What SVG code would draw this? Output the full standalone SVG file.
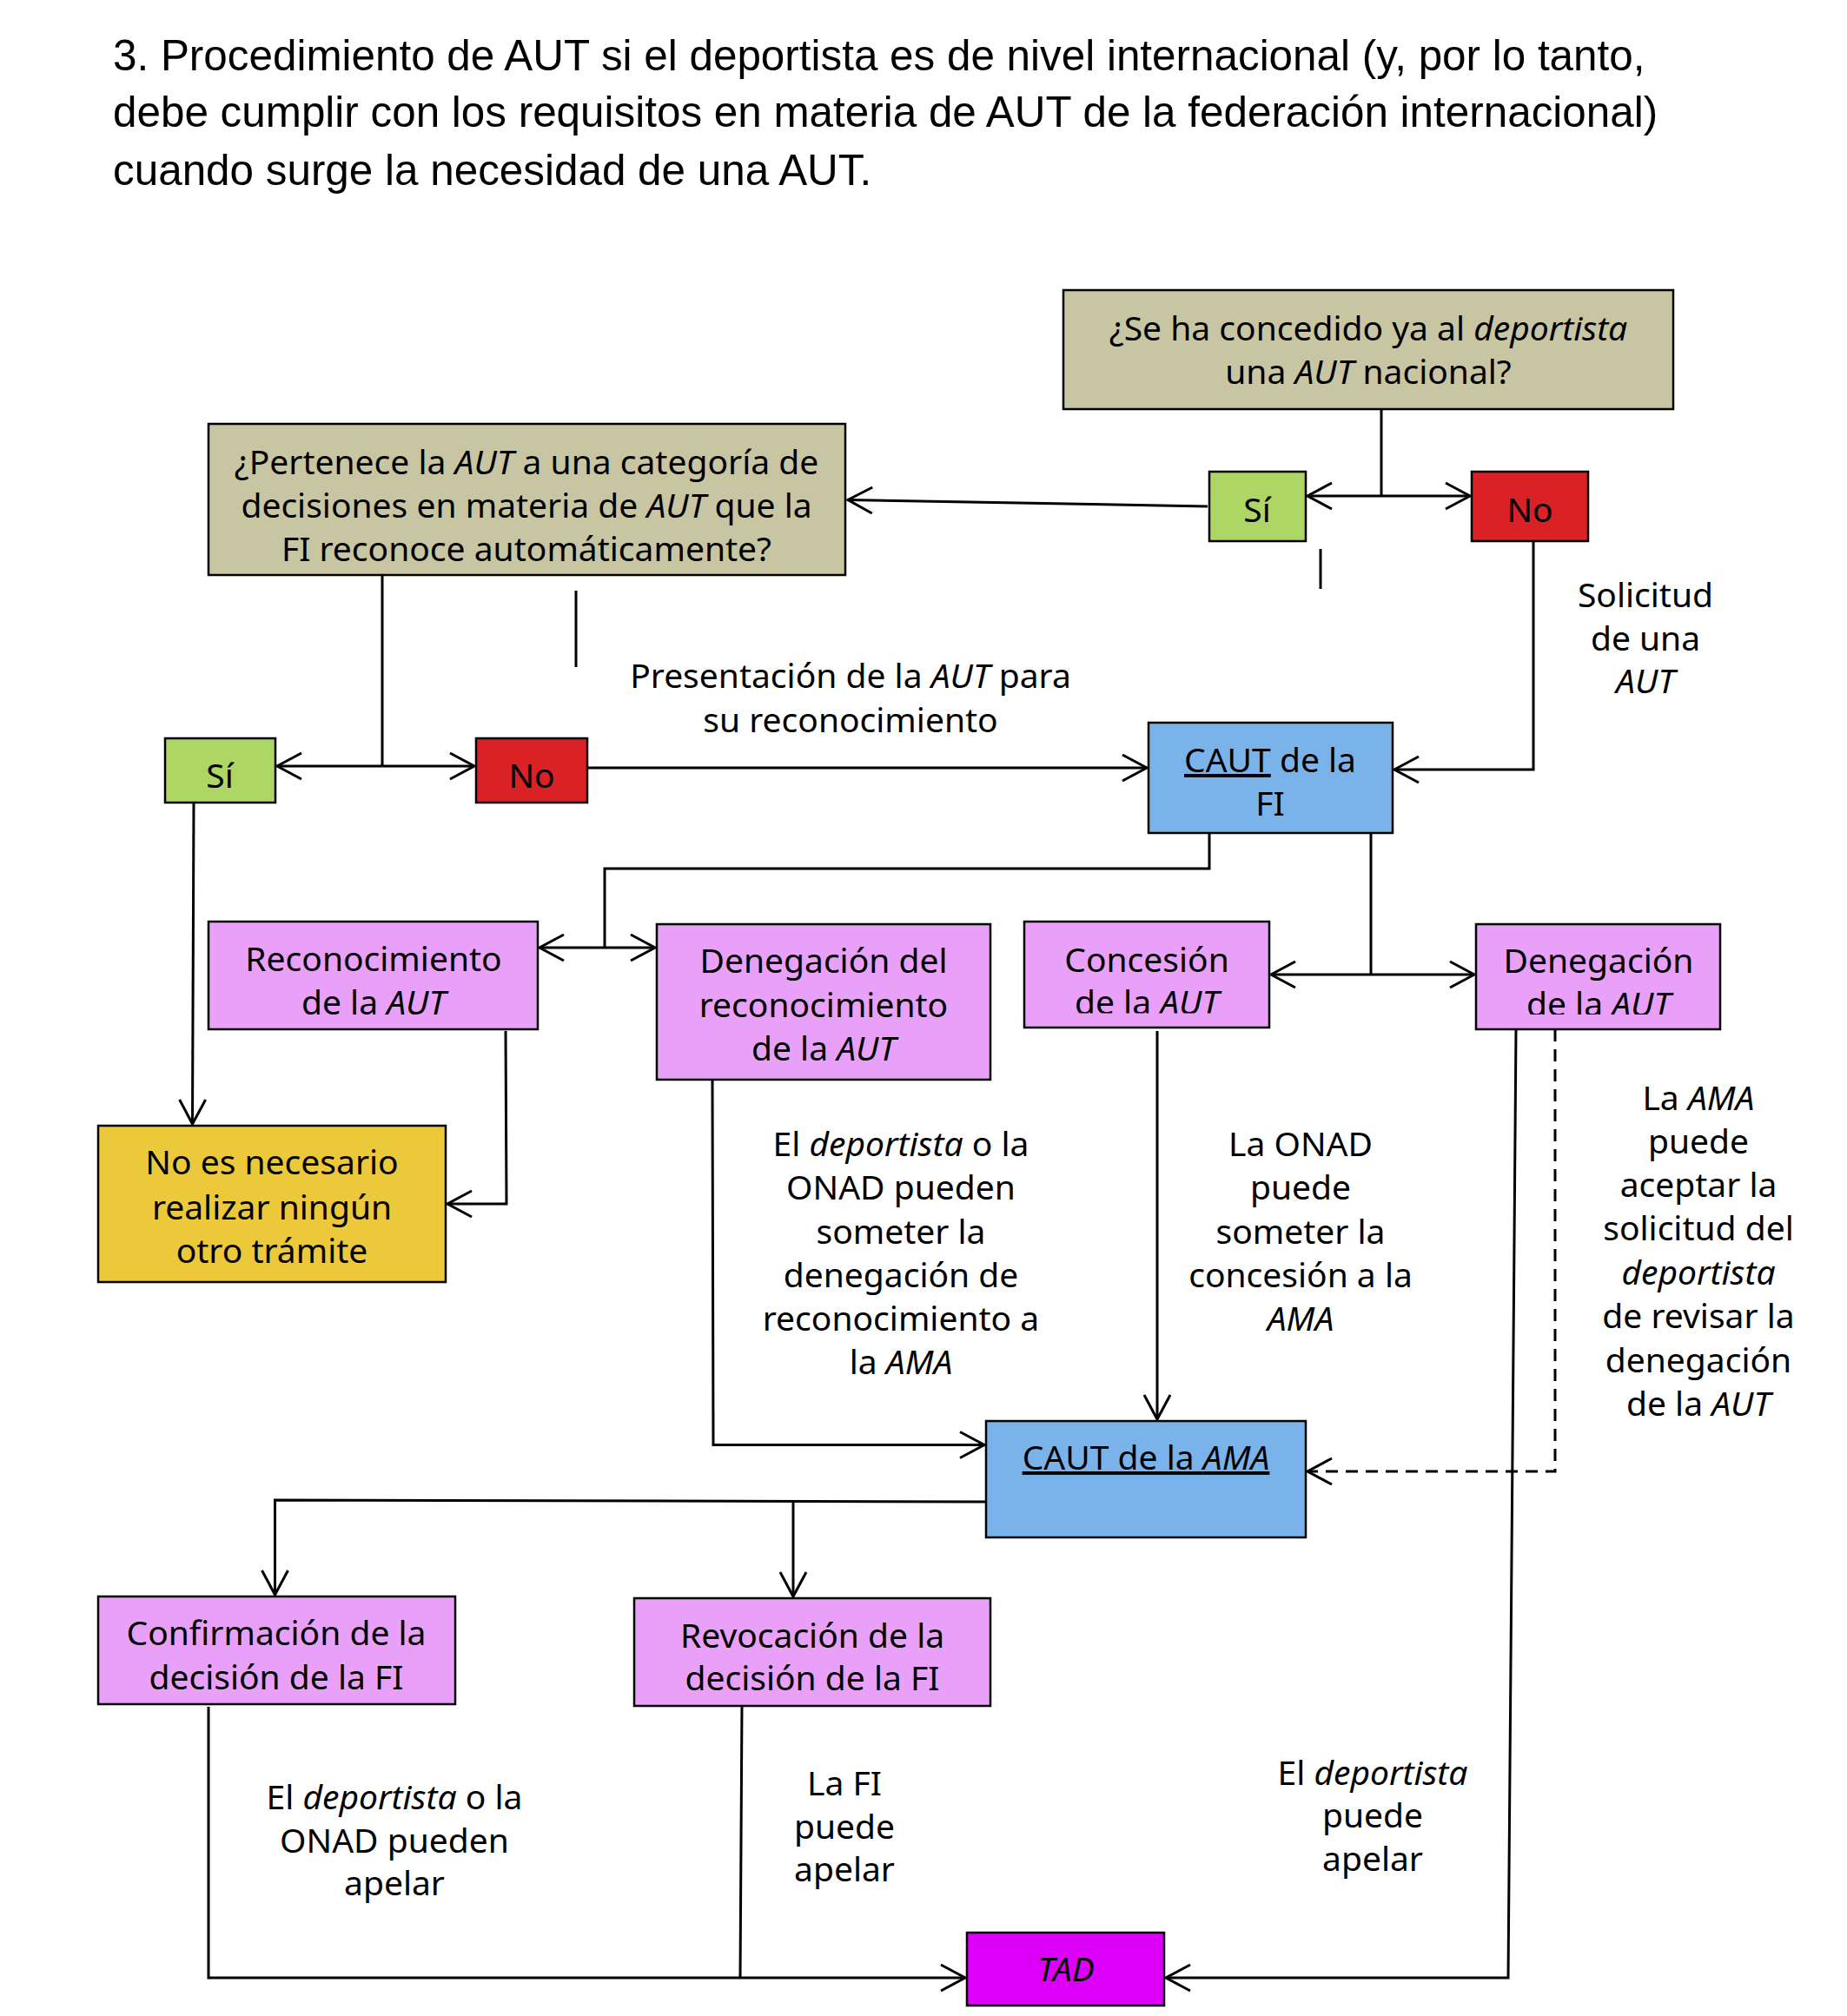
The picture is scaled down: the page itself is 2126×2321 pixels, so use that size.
<svg xmlns="http://www.w3.org/2000/svg" width="2126" height="2321" viewBox="0 0 2126 2321">
<style>
.bx{stroke:#000;stroke-width:2.5}
.q{fill:#C8C5A3}
.g{fill:#AED665}
.r{fill:#D92126}
.b{fill:#7AB2EA}
.p{fill:#E8A0F8}
.y{fill:#EBC93B}
.m{fill:#DD00F8}
.t{font-family:"Noto Sans","DejaVu Sans",sans-serif;font-size:39px;fill:#000;text-anchor:middle}
.i{font-style:italic}
.u{text-decoration:underline}
.ttl{font-family:"Liberation Sans",Arial,sans-serif;font-size:49.4px;fill:#000}
.c{fill:none;stroke:#000;stroke-width:3}
.d{stroke-dasharray:14 9}
</style>
<defs>
<marker id="a" markerUnits="userSpaceOnUse" markerWidth="40" markerHeight="40" viewBox="-32 -20 40 40" refX="0" refY="0" orient="auto-start-reverse" overflow="visible">
<path d="M-28,-15 L0,0 L-28,15" fill="none" stroke="#000" stroke-width="3"/>
</marker>
<clipPath id="clipC"><rect x="1179" y="1061" width="282" height="105.5"/></clipPath>
<clipPath id="clipD"><rect x="1699" y="1064" width="281" height="104"/></clipPath>
</defs>
<rect width="2126" height="2321" fill="#fff"/>
<g id="title">
<text class="ttl" x="130" y="81">3. Procedimiento de AUT si el deportista es de nivel internacional (y, por lo tanto,</text>
<text class="ttl" x="130" y="146">debe cumplir con los requisitos en materia de AUT de la federación internacional)</text>
<text class="ttl" x="130" y="213">cuando surge la necesidad de una AUT.</text>
</g>
<g id="connectors">
<path class="c" d="M1590,471 V571"/>
<path class="c" d="M1505,571 H1692" marker-start="url(#a)" marker-end="url(#a)"/>
<path class="c" d="M1390,583 L976,575.5" marker-end="url(#a)"/>
<path class="c" d="M440,662 V882"/>
<path class="c" d="M319,882 H546" marker-start="url(#a)" marker-end="url(#a)"/>
<path class="c" d="M676,884 H1320" marker-end="url(#a)"/>
<path class="c" d="M1765,623 V886 H1605" marker-end="url(#a)"/>
<path class="c" d="M1392,959 V1000 H696 V1091"/>
<path class="c" d="M621,1091 H754" marker-start="url(#a)" marker-end="url(#a)"/>
<path class="c" d="M1578,959 V1122"/>
<path class="c" d="M1463,1122 H1697" marker-start="url(#a)" marker-end="url(#a)"/>
<path class="c" d="M223,924 L221.5,1294" marker-end="url(#a)"/>
<path class="c" d="M582,1187 L583,1386 H515" marker-end="url(#a)"/>
<path class="c" d="M820,1243 L821,1663.5 H1133" marker-end="url(#a)"/>
<path class="c" d="M1332,1187 V1634" marker-end="url(#a)"/>
<path class="c d" d="M1790,1185 V1694 H1505" marker-end="url(#a)"/>
<path class="c" d="M1745,1185 L1736,2277 H1342" marker-end="url(#a)"/>
<path class="c" d="M1135,1729 L316.5,1727 V1836" marker-end="url(#a)"/>
<path class="c" d="M913,1728 V1838" marker-end="url(#a)"/>
<path class="c" d="M240,1965 V2277 H1111" marker-end="url(#a)"/>
<path class="c" d="M854,1964 L852,2277"/>
<path class="c" d="M663,680 V768"/>
<path class="c" d="M1520,632 V678"/>
</g>
<g id="labels">
<text class="t" x="1894" y="699">Solicitud</text>
<text class="t" x="1894" y="749">de una</text>
<text class="t i" x="1894" y="798">AUT</text>
<text class="t" x="979" y="792">Presentación de la <tspan class="i">AUT</tspan> para</text>
<text class="t" x="979" y="843">su reconocimiento</text>
<text class="t" x="1037" y="1331">El <tspan class="i">deportista</tspan> o la</text>
<text class="t" x="1037" y="1381">ONAD pueden</text>
<text class="t" x="1037" y="1432">someter la</text>
<text class="t" x="1037" y="1482">denegación de</text>
<text class="t" x="1037" y="1532">reconocimiento a</text>
<text class="t" x="1037" y="1582">la <tspan class="i">AMA</tspan></text>
<text class="t" x="1497" y="1331">La ONAD</text>
<text class="t" x="1497" y="1381">puede</text>
<text class="t" x="1497" y="1432">someter la</text>
<text class="t" x="1497" y="1482">concesión a la</text>
<text class="t i" x="1497" y="1532">AMA</text>
<text class="t" x="1955" y="1278">La <tspan class="i">AMA</tspan></text>
<text class="t" x="1955" y="1328">puede</text>
<text class="t" x="1955" y="1378">aceptar la</text>
<text class="t" x="1955" y="1428">solicitud del</text>
<text class="t i" x="1955" y="1479">deportista</text>
<text class="t" x="1955" y="1529">de revisar la</text>
<text class="t" x="1955" y="1580">denegación</text>
<text class="t" x="1955" y="1630">de la <tspan class="i">AUT</tspan></text>
<text class="t" x="454" y="2083">El <tspan class="i">deportista</tspan> o la</text>
<text class="t" x="454" y="2133">ONAD pueden</text>
<text class="t" x="454" y="2182">apelar</text>
<text class="t" x="972" y="2067">La FI</text>
<text class="t" x="972" y="2117">puede</text>
<text class="t" x="972" y="2166">apelar</text>
<text class="t" x="1580" y="2055">El <tspan class="i">deportista</tspan></text>
<text class="t" x="1580" y="2104">puede</text>
<text class="t" x="1580" y="2154">apelar</text>
</g>
<g id="n-nacional">
<rect class="bx q" x="1224" y="334" width="702" height="137"/>
<text class="t" x="1575" y="392">¿Se ha concedido ya al <tspan class="i">deportista</tspan></text>
<text class="t" x="1575" y="442">una <tspan class="i">AUT</tspan> nacional?</text>
</g>
<g id="n-si1">
<rect class="bx g" x="1392" y="543" width="111" height="80"/>
<text class="t" x="1447" y="601">Sí</text>
</g>
<g id="n-no1">
<rect class="bx r" x="1694" y="543" width="134" height="80"/>
<text class="t" x="1761" y="601">No</text>
</g>
<g id="n-pertenece">
<rect class="bx q" x="240" y="488" width="733" height="174"/>
<text class="t" x="606" y="546">¿Pertenece la <tspan class="i">AUT</tspan> a una categoría de</text>
<text class="t" x="606" y="596">decisiones en materia de <tspan class="i">AUT</tspan> que la</text>
<text class="t" x="606" y="646">FI reconoce automáticamente?</text>
</g>
<g id="n-si2">
<rect class="bx g" x="190" y="850" width="127" height="74"/>
<text class="t" x="253" y="907">Sí</text>
</g>
<g id="n-no2">
<rect class="bx r" x="548" y="850" width="128" height="74"/>
<text class="t" x="612" y="907">No</text>
</g>
<g id="n-cautfi">
<rect class="bx b" x="1322" y="832" width="281" height="127"/>
<text class="t" x="1462" y="889"><tspan class="u">CAUT</tspan> de la</text>
<text class="t" x="1462" y="939">FI</text>
</g>
<g id="n-reconocimiento">
<rect class="bx p" x="240" y="1061" width="379" height="124"/>
<text class="t" x="430" y="1118">Reconocimiento</text>
<text class="t" x="430" y="1168">de la <tspan class="i">AUT</tspan></text>
</g>
<g id="n-denegrec">
<rect class="bx p" x="756" y="1064" width="384" height="179"/>
<text class="t" x="948" y="1120">Denegación del</text>
<text class="t" x="948" y="1171">reconocimiento</text>
<text class="t" x="948" y="1221">de la <tspan class="i">AUT</tspan></text>
</g>
<g id="n-concesion">
<rect class="bx p" x="1179" y="1061" width="282" height="122"/>
<text class="t" x="1320" y="1119">Concesión</text>
<text class="t" x="1320" y="1168" clip-path="url(#clipC)">de la <tspan class="i">AUT</tspan></text>
</g>
<g id="n-denegacion">
<rect class="bx p" x="1699" y="1064" width="281" height="121"/>
<text class="t" x="1840" y="1120">Denegación</text>
<text class="t" x="1840" y="1169.5" clip-path="url(#clipD)">de la <tspan class="i">AUT</tspan></text>
</g>
<g id="n-nonecesario">
<rect class="bx y" x="113" y="1296" width="400" height="180"/>
<text class="t" x="313" y="1352">No es necesario</text>
<text class="t" x="313" y="1404">realizar ningún</text>
<text class="t" x="313" y="1454">otro trámite</text>
</g>
<g id="n-cautama">
<rect class="bx b" x="1135" y="1636" width="368" height="134"/>
<text class="t u" x="1319" y="1692">CAUT de la <tspan class="i">AMA</tspan></text>
</g>
<g id="n-confirmacion">
<rect class="bx p" x="113" y="1838" width="411" height="124"/>
<text class="t" x="318" y="1894">Confirmación de la</text>
<text class="t" x="318" y="1945">decisión de la FI</text>
</g>
<g id="n-revocacion">
<rect class="bx p" x="730" y="1840" width="410" height="124"/>
<text class="t" x="935" y="1897">Revocación de la</text>
<text class="t" x="935" y="1946">decisión de la FI</text>
</g>
<g id="n-tad">
<rect class="bx m" x="1113" y="2225" width="227" height="84"/>
<text class="t i" x="1227" y="2281">TAD</text>
</g>
</svg>
